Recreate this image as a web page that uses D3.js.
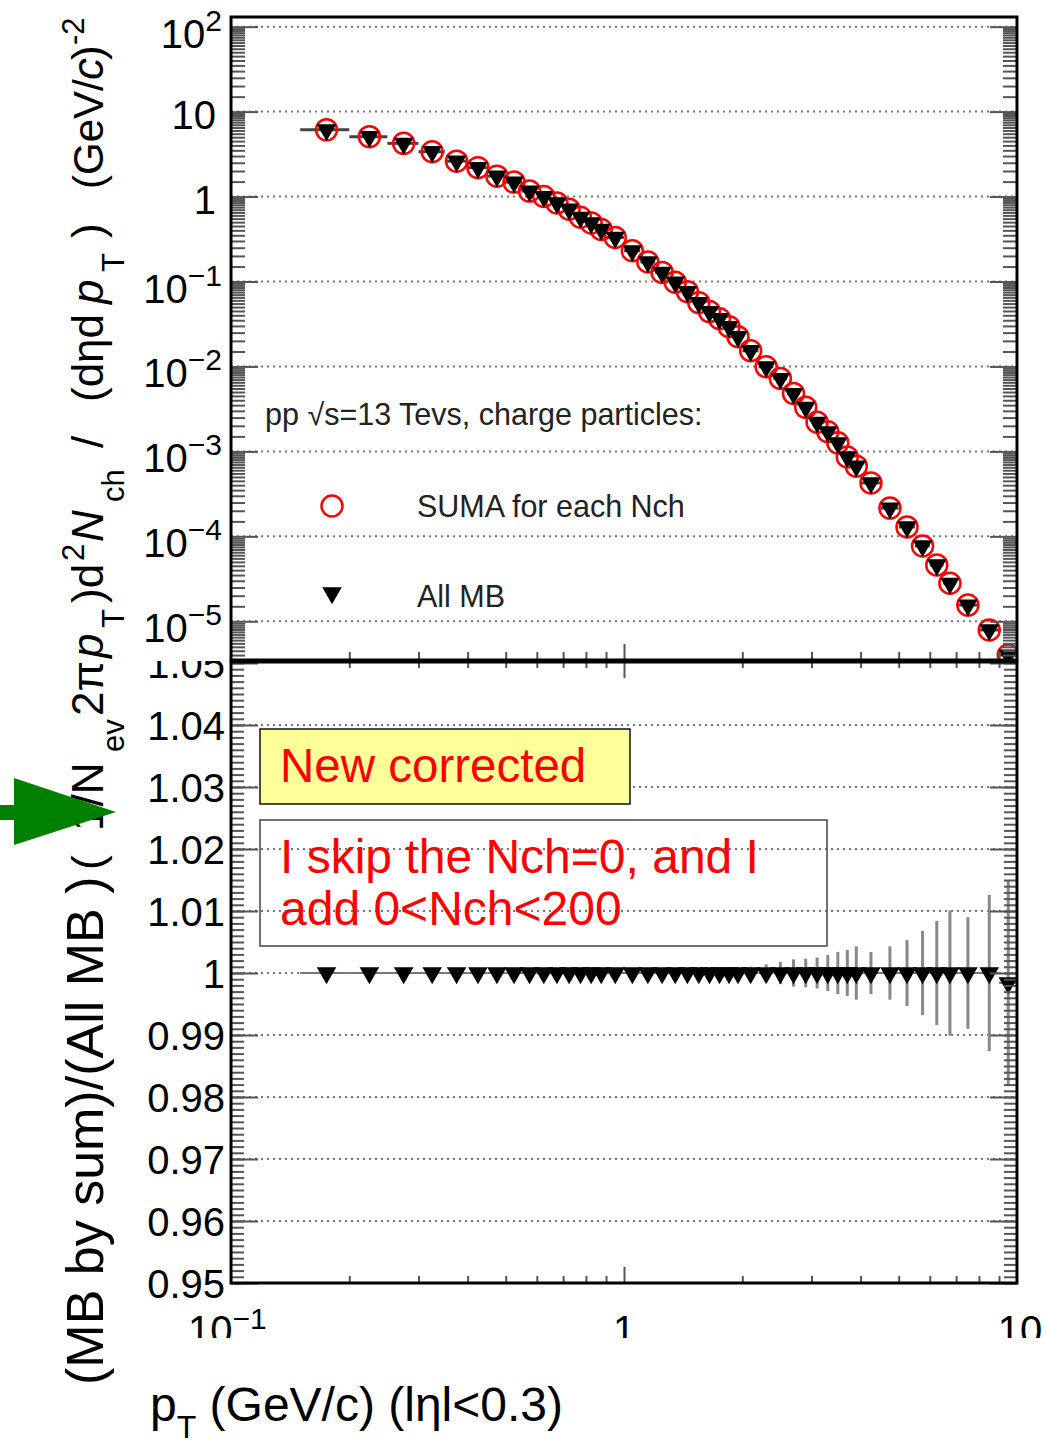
<!DOCTYPE html>
<html>
<head>
<meta charset="utf-8">
<script src="https://cdn.jsdelivr.net/npm/d3@7"></script>
<style>
  body { margin: 0; background: #fff; }
  svg text { font-family: "Liberation Sans", Arial, Helvetica, sans-serif; white-space: pre; }
</style>
</head>
<body>
<svg id="chart" width="1047" height="1442"></svg>
<script>
// pT bins (GeV/c)
const ptEdges = [0.15, 0.2, 0.25, 0.3, 0.35, 0.4, 0.45, 0.5, 0.55, 0.6, 0.65, 0.7, 0.75, 0.8, 0.85, 0.9,
    1.0, 1.1, 1.2, 1.3, 1.4, 1.5, 1.6, 1.7, 1.8, 1.9, 2.0, 2.2, 2.4, 2.6, 2.8, 3.0, 3.2, 3.4, 3.6, 3.8, 4.0,
    4.5, 5.0, 5.5, 6.0, 6.5, 7.0, 8.0, 9.0, 10.0];
const ptCenters = [0.175, 0.225, 0.275, 0.325, 0.375, 0.425, 0.475, 0.525, 0.575, 0.625, 0.675, 0.725, 0.775, 0.825, 0.875,
    0.95, 1.05, 1.15, 1.25, 1.35, 1.45, 1.55, 1.65, 1.75, 1.85, 1.95, 2.1, 2.3, 2.5, 2.7, 2.9, 3.1, 3.3, 3.5, 3.7, 3.9,
    4.25, 4.75, 5.25, 5.75, 6.25, 6.75, 7.5, 8.5, 9.5];

// All MB spectrum (triangles)
const mbYield = [6.1, 5.07, 4.23, 3.37, 2.61, 2.19, 1.74, 1.48, 1.16, 1.0, 0.84, 0.71, 0.57, 0.49, 0.41,
    0.33, 0.23, 0.17, 0.128, 0.098, 0.076, 0.0564, 0.0442, 0.0365, 0.0294, 0.0224, 0.0153, 0.0099, 0.0072, 0.0048,
    0.0033, 0.0022, 0.0017, 0.00126, 0.00086, 0.00067, 0.000425, 0.000215, 0.000129, 7.7e-5, 4.6e-5, 2.8e-5,
    1.55e-5, 7.9e-6, 4.0e-6];
// SUMA for each Nch (circles)
const sumaYield = [6.1, 5.07, 4.23, 3.37, 2.61, 2.19, 1.74, 1.48, 1.16, 1.0, 0.84, 0.71, 0.57, 0.49, 0.41,
    0.33, 0.23, 0.17, 0.128, 0.098, 0.076, 0.0564, 0.0442, 0.0365, 0.0294, 0.0224, 0.0153, 0.0099, 0.0072, 0.0048,
    0.0033, 0.0022, 0.0017, 0.00126, 0.00086, 0.00067, 0.000425, 0.000215, 0.000129, 7.7e-5, 4.6e-5, 2.8e-5,
    1.55e-5, 7.9e-6, 4.0e-6];

// ratio (MB by sum)/(All MB) and its error
const ratio = [1, 1, 1, 1, 1, 1, 1, 1, 1, 1, 1, 1, 1, 1, 1, 1, 1, 1, 1, 1, 1, 1, 1, 1, 1, 1, 1, 1, 1, 1,
    1, 1, 1, 1, 1, 1, 1, 1, 1, 1, 1, 1, 1, 1, 0.9984];
const ratioErr = [0.0002, 0.0002, 0.0002, 0.0002, 0.0002, 0.0002, 0.0002, 0.0003, 0.0003, 0.0003, 0.0003, 0.0003,
    0.0003, 0.0003, 0.0003, 0.0003, 0.0004, 0.0004, 0.0005, 0.0005, 0.0006, 0.0006, 0.0007, 0.0007, 0.0008, 0.0008,
    0.001, 0.0014, 0.0018, 0.0022, 0.0023, 0.0025, 0.0029, 0.0034, 0.0037, 0.0043, 0.0034, 0.0043, 0.0053, 0.0068,
    0.0084, 0.0101, 0.009, 0.0126, 0.0165];

// axis ticks and labels
const topMajor = [100, 10, 1, 0.1, 0.01, 0.001, 1e-4, 1e-5];
const topBase = ["10", "10", "1", "10", "10", "10", "10", "10"];
const topExp = ["2", "", "", "\u22121", "\u22122", "\u22123", "\u22124", "\u22125"];
const ratioMajor = [0.95, 0.96, 0.97, 0.98, 0.99, 1.0, 1.01, 1.02, 1.03, 1.04, 1.05];
const ratioLabels = ["0.95", "0.96", "0.97", "0.98", "0.99", "1", "1.01", "1.02", "1.03", "1.04", "1.05"];
const xMajor = [0.1, 1, 10];
const xBase = ["10", "1", "10"];
const xExp = ["\u22121", "", ""];

const svg = d3.select("#chart");
const L = 231, R = 1017;
const T0 = 17, T1 = 660, B0 = 662, B1 = 1283;

const x = d3.scaleLog().domain([0.1, 10]).range([L, R]);
const yTop = d3.scaleLog().domain([3.5e-6, 130]).range([T1, T0]);
const yBot = d3.scaleLinear().domain([0.95, 1.05]).range([B1, B0 + 1]);

const defs = svg.append("defs");
defs.append("clipPath").attr("id", "clipTop").append("rect")
    .attr("x", L).attr("y", T0).attr("width", R - L).attr("height", T1 - T0);
defs.append("clipPath").attr("id", "clipBot").append("rect")
    .attr("x", L).attr("y", B0).attr("width", R - L).attr("height", B1 - B0);
defs.append("clipPath").attr("id", "clipRatioLab").append("rect")
    .attr("x", 0).attr("y", 661).attr("width", 231).attr("height", 700);
defs.append("clipPath").attr("id", "clipXLab").append("rect")
    .attr("x", 0).attr("y", 1290).attr("width", 1047).attr("height", 48);

svg.append("rect").attr("width", 1047).attr("height", 1442).attr("fill", "#fff");

// minor tick positions
const topMinor = [];
for (let e = -6; e <= 2; e++) {
    for (let k = 1.5; k < 10; k += 0.5) {
        const v = k * Math.pow(10, e);
        if (v > 3.5e-6 && v < 130) topMinor.push(v);
    }
}
const ratioMinor = d3.range(950, 1051).map(d => d / 1000);
const xMinor = [];
[0.1, 1].forEach(b => { for (let k = 2; k <= 9; k++) xMinor.push(k * b); });

// grid lines
const grid = svg.append("g").attr("stroke", "#777").attr("stroke-width", 2).attr("stroke-dasharray", "2,4");
grid.selectAll(".gt").data(topMajor).enter().append("line")
    .attr("x1", L).attr("x2", R).attr("y1", d => yTop(d)).attr("y2", d => yTop(d));
grid.selectAll(".gb").data(ratioMajor.slice(1, -1)).enter().append("line")
    .attr("x1", L).attr("x2", R).attr("y1", d => yBot(d)).attr("y2", d => yBot(d));

// annotation boxes
svg.append("rect").attr("x", 260).attr("y", 729).attr("width", 370).attr("height", 75)
    .attr("fill", "#ffff99").attr("stroke", "#111").attr("stroke-width", 1.5);
svg.append("rect").attr("x", 260).attr("y", 820).attr("width", 567).attr("height", 126)
    .attr("fill", "none").attr("stroke", "#444").attr("stroke-width", 1.5);

const triangle = d3.symbol().type(d3.symbolTriangle).size(165);

// top panel data
const topG = svg.append("g").attr("clip-path", "url(#clipTop)");
topG.selectAll(".xe").data(ptCenters).enter().append("line")
    .attr("x1", (d, i) => x(ptEdges[i])).attr("x2", (d, i) => x(ptEdges[i + 1]))
    .attr("y1", (d, i) => yTop(mbYield[i])).attr("y2", (d, i) => yTop(mbYield[i]))
    .attr("stroke", "#444").attr("stroke-width", 3);
topG.selectAll("circle").data(ptCenters).enter().append("circle")
    .attr("cx", d => x(d)).attr("cy", (d, i) => yTop(sumaYield[i])).attr("r", 10.5)
    .attr("fill", "none").attr("stroke", "#ff0000").attr("stroke-width", 2.5);
topG.selectAll(".tri").data(ptCenters).enter().append("path")
    .attr("d", triangle)
    .attr("transform", (d, i) => `translate(${x(d)},${yTop(mbYield[i])}) rotate(180)`)
    .attr("fill", "#000");

// bottom panel data
const botG = svg.append("g").attr("clip-path", "url(#clipBot)");
botG.selectAll(".xe").data(ptCenters).enter().append("line")
    .attr("x1", (d, i) => x(ptEdges[i])).attr("x2", (d, i) => x(ptEdges[i + 1]))
    .attr("y1", (d, i) => yBot(ratio[i])).attr("y2", (d, i) => yBot(ratio[i]))
    .attr("stroke", "#777").attr("stroke-width", 2);
botG.selectAll(".ye").data(ptCenters).enter().append("line")
    .attr("x1", d => x(d)).attr("x2", d => x(d))
    .attr("y1", (d, i) => yBot(ratio[i] + ratioErr[i])).attr("y2", (d, i) => yBot(ratio[i] - ratioErr[i]))
    .attr("stroke", "#888").attr("stroke-width", 3);
botG.selectAll(".tri").data(ptCenters).enter().append("path")
    .attr("d", triangle)
    .attr("transform", (d, i) => `translate(${x(d)},${yBot(ratio[i])}) rotate(180)`)
    .attr("fill", "#000");

// ticks
function tickAxis(axis, tx, ty, vals, len) {
    svg.append("g").attr("transform", `translate(${tx},${ty})`)
        .call(axis.tickValues(vals).tickSize(len).tickFormat(""))
        .call(g => g.select(".domain").remove())
        .call(g => g.selectAll("line").attr("stroke", "#555").attr("stroke-width", 2));
}
tickAxis(d3.axisRight(yTop), L, 0, topMinor, 14);
tickAxis(d3.axisRight(yTop), L, 0, topMajor, 27);
tickAxis(d3.axisLeft(yTop), R, 0, topMinor, 14);
tickAxis(d3.axisLeft(yTop), R, 0, topMajor, 27);
tickAxis(d3.axisRight(yBot), L, 0, ratioMinor, 13);
tickAxis(d3.axisRight(yBot), L, 0, ratioMajor, 27);
tickAxis(d3.axisLeft(yBot), R, 0, ratioMinor, 13);
tickAxis(d3.axisLeft(yBot), R, 0, ratioMajor, 27);
tickAxis(d3.axisTop(x), 0, T1, xMinor, 8);
tickAxis(d3.axisBottom(x), 0, T1, xMinor, 8);
tickAxis(d3.axisTop(x), 0, T1, [1], 16);
tickAxis(d3.axisBottom(x), 0, T1, [1], 18);
tickAxis(d3.axisTop(x), 0, B1, xMinor, 7);
tickAxis(d3.axisTop(x), 0, B1, [1], 16);

// frames
svg.append("rect").attr("x", L).attr("y", T0).attr("width", R - L).attr("height", T1 - T0)
    .attr("fill", "none").attr("stroke", "#000").attr("stroke-width", 3);
svg.append("rect").attr("x", L).attr("y", B0).attr("width", R - L).attr("height", B1 - B0)
    .attr("fill", "none").attr("stroke", "#000").attr("stroke-width", 3);

// top y labels
const tl = svg.append("g").attr("fill", "#000").attr("font-size", 40).attr("text-anchor", "end");
topMajor.forEach((v, i) => {
    const t = tl.append("text")
        .attr("x", topExp[i] ? 222 : 216)
        .attr("y", yTop(v) + (topExp[i] ? 21 : 17));
    t.append("tspan").text(topBase[i]);
    if (topExp[i]) t.append("tspan").attr("dy", -17).attr("font-size", 30).text(topExp[i]);
});

// ratio labels (upper half hidden behind the top pad)
svg.append("g").attr("clip-path", "url(#clipRatioLab)")
    .selectAll("text").data(ratioMajor).enter().append("text")
    .attr("x", 225).attr("y", d => yBot(d) + 15)
    .attr("text-anchor", "end").attr("font-size", 40)
    .text((d, i) => ratioLabels[i]);

// x labels (cut off at the bottom like the original)
const xl = svg.append("g").attr("clip-path", "url(#clipXLab)").attr("font-size", 40);
xMajor.forEach((v, i) => {
    const t = xl.append("text").attr("x", x(v) + (xExp[i] ? -43 : 0) + (i === 2 ? 3 : 0)).attr("y", 1344)
        .attr("text-anchor", xExp[i] ? "start" : "middle");
    t.append("tspan").text(xBase[i]);
    if (xExp[i]) t.append("tspan").attr("dy", -15).attr("font-size", 30).text(xExp[i]);
});

// x title
const xt = svg.append("text").attr("x", 150).attr("y", 1421).attr("font-size", 48);
xt.append("tspan").text("p");
xt.append("tspan").attr("dy", 17).attr("font-size", 32).text("T");
xt.append("tspan").attr("dy", -17).text(" (GeV/c) (l\u03b7l<0.3)");

// y titles
svg.append("text").attr("transform", "translate(103,1385) rotate(-90)")
    .attr("font-size", 52).text("(MB by sum)/(All MB )");

// [text, screen y where the piece starts, style]
const yTitleParts = [
    ["(  1/N", 870, ""], ["ev", 752, "sub"], ["2\u03c0", 716, ""], ["p", 658, "it"], ["T", 628, "sub"],
    [")d", 603, ""], ["2", 561, "sup"], ["N", 542, "it"], ["ch", 502, "sub"], ["/", 448, ""],
    ["(d\u03b7d", 402, ""], ["p", 304, "it"], ["T", 272, "sub"], [")", 238, ""], ["(GeV/", 189, "small"],
    ["c", 80, "it"], [")", 60, ""], ["-2", 45, "sup"]
];
const yt = svg.append("text").attr("transform", "translate(103,0) rotate(-90)").attr("font-size", 44);
yTitleParts.forEach(p => {
    const s = yt.append("tspan").attr("x", -p[1])
        .attr("y", p[2] === "sub" ? 21 : p[2] === "sup" ? -19 : 0)
        .text(p[0]);
    if (p[2] === "sub" || p[2] === "sup") s.attr("font-size", 31);
    if (p[2] === "it") s.attr("font-style", "italic");
    if (p[2] === "small") s.attr("font-size", 42);
});

// legend
svg.append("text").attr("x", 265).attr("y", 425).attr("font-size", 30.5).attr("fill", "#222")
    .text("pp \u221as=13 Tevs, charge particles:");
svg.append("circle").attr("cx", 332).attr("cy", 506).attr("r", 10.5)
    .attr("fill", "none").attr("stroke", "#ff0000").attr("stroke-width", 2.5);
svg.append("path").attr("d", triangle).attr("transform", "translate(332,593) rotate(180)").attr("fill", "#000");
svg.append("text").attr("x", 417).attr("y", 517).attr("font-size", 30.5).attr("fill", "#222").text("SUMA for each Nch");
svg.append("text").attr("x", 417).attr("y", 607).attr("font-size", 30.5).attr("fill", "#222").text("All MB");

// annotations
svg.append("text").attr("x", 280).attr("y", 782).attr("font-size", 47.5).attr("fill", "#ff0000").text("New corrected");
svg.append("text").attr("x", 280).attr("y", 873).attr("font-size", 48).attr("fill", "#ff0000").text("I skip the Nch=0, and I");
svg.append("text").attr("x", 280).attr("y", 925).attr("font-size", 48).attr("fill", "#ff0000").text("add 0<Nch<200");

// green arrow
svg.append("polygon")
    .attr("points", "0,805 14,805 14,778 116,812 14,845 14,820 0,820")
    .attr("fill", "#008000");
</script>
</body>
</html>
